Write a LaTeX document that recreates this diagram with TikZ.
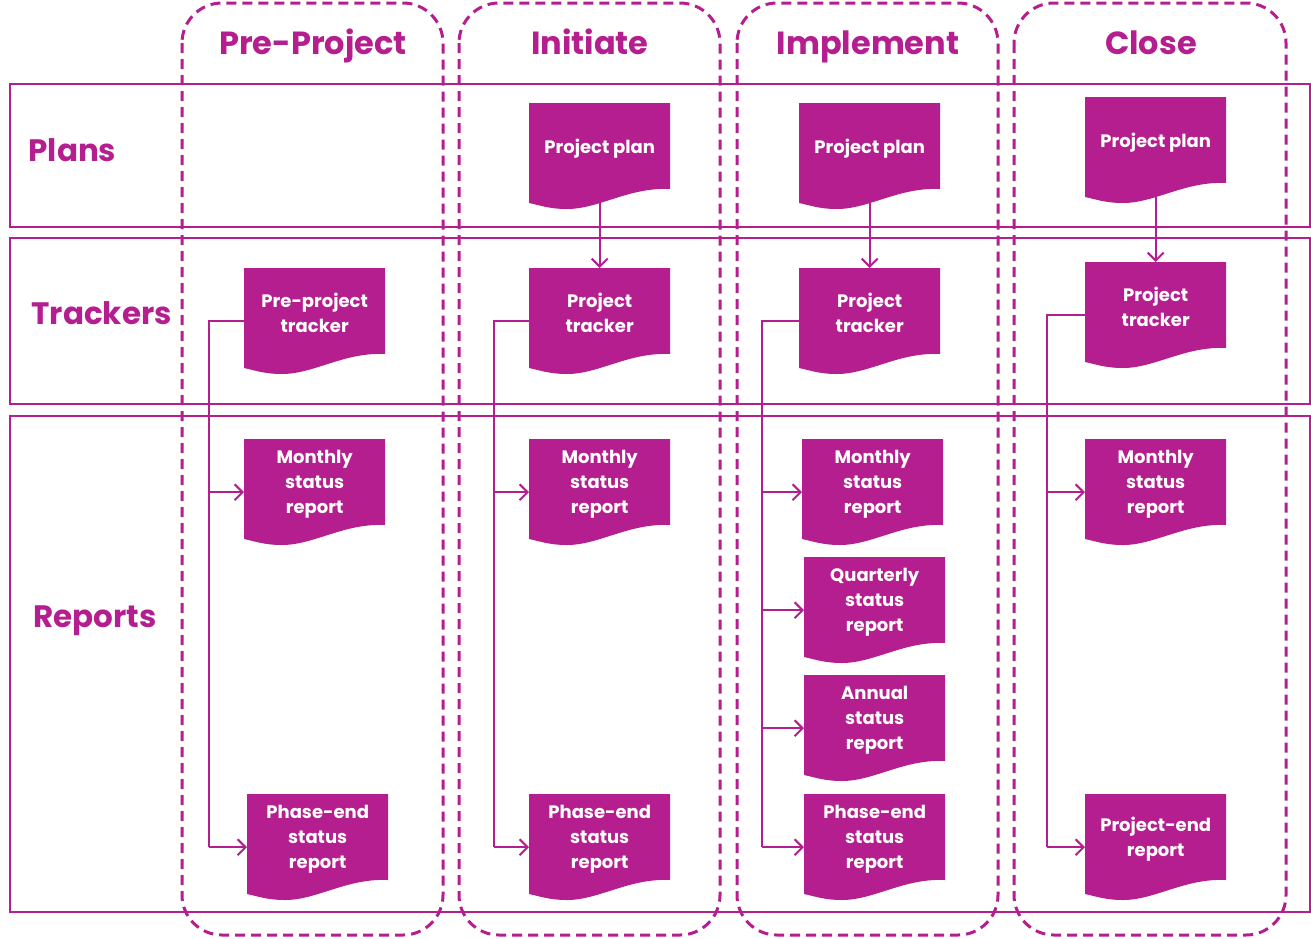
\documentclass[tikz,border=0pt]{standalone}
\usepackage{fontspec}
\setmainfont{Poppins}
\usetikzlibrary{arrows.meta,calc}
\definecolor{mag}{RGB}{180,30,142}
\tikzset{
  docbox/.style={anchor=north west,minimum width=141pt,minimum height=90pt,inner sep=0pt,
    text=white,font=\fontsize{18}{25}\selectfont\bfseries,align=center},
  lane/.style={draw=mag,line width=2pt},
  phase/.style={draw=mag,line width=3pt,dash pattern=on 10pt off 6pt,rounded corners=40pt},
  conn/.style={draw=mag,line width=2pt},
  arr/.style={conn,-{Straight Barb[length=8pt,width=16pt,line width=2pt]}},
  title/.style={text=mag,font=\fontsize{32}{36}\selectfont\bfseries,anchor=base},
  rowlab/.style={text=mag,font=\fontsize{31}{36}\selectfont\bfseries,anchor=west}
}
\newcommand\docnode[4]{%
  \fill[mag] (#2,#3) -- (#2+141,#3) -- (#2+141,#3+86)
    .. controls (#2+100,#3+84) and (#2+70,#3+106) .. (#2+38,#3+106)
    .. controls (#2+20,#3+106) and (#2+10,#3+102) .. (#2,#3+100) -- cycle;
  \node[docbox] (#1) at (#2,#3) {#4};}
\begin{document}
\begin{tikzpicture}[x=1pt,y=-1pt]
\useasboundingbox (0,0) rectangle (1311,938);
% lanes
\draw[lane] (10,84) rectangle (1310,227);
\draw[lane] (10,238) rectangle (1310,404);
\draw[lane] (10,416) rectangle (1310,912);
\node[rowlab] (lplans) at (25,150) {Plans};
\node[rowlab] (ltrack) at (28,313) {Trackers};
\node[rowlab] (lrep) at (30,621) {Reports};
% phases
\draw[phase] (182,3) rectangle (443,935);
\draw[phase] (459,3) rectangle (720,935);
\draw[phase] (737,3) rectangle (998,935);
\draw[phase] (1014,3) rectangle (1286,935);
\node[title] (tpre) at (313,54) {Pre-Project};
\node[title] (tini) at (590,54) {Initiate};
\node[title] (timp) at (868,54) {Implement};
\node[title] (tclo) at (1151,54) {Close};
% Pre-Project
\docnode{t1}{244}{268}{Pre-project\\tracker}
\docnode{m1}{244}{439}{Monthly\\status\\report}
\docnode{e1}{247}{794}{Phase-end\\status\\report}
% Initiate
\docnode{p2}{529}{103}{Project plan}
\docnode{t2}{529}{268}{Project\\tracker}
\docnode{m2}{529}{439}{Monthly\\status\\report}
\docnode{e2}{529}{794}{Phase-end\\status\\report}
% Implement
\docnode{p3}{799}{103}{Project plan}
\docnode{t3}{799}{268}{Project\\tracker}
\docnode{m3}{802}{439}{Monthly\\status\\report}
\docnode{q3}{804}{557}{Quarterly\\status\\report}
\docnode{a3}{804}{675}{Annual\\status\\report}
\docnode{e3}{804}{794}{Phase-end\\status\\report}
% Close
\docnode{p4}{1085}{97}{Project plan}
\docnode{t4}{1085}{262}{Project\\tracker}
\docnode{m4}{1085}{439}{Monthly\\status\\report}
\docnode{e4}{1085}{794}{Project-end\\report}
% trunk coordinates
\coordinate (j1) at (209,0);
\coordinate (j2) at (494,0);
\coordinate (j3) at (762,0);
\coordinate (j4) at (1047,0);
% plan -> tracker
\draw[arr] (p2.south) -- (t2.north);
\draw[arr] (p3.south) -- (t3.north);
\draw[arr] (p4.south) -- (t4.north);
% Pre-project trunk
\draw[conn] ([yshift=-8pt]t1.west) -- ([yshift=-8pt]t1.west -| j1) -- ([yshift=-8pt]e1.west -| j1);
\draw[arr] ([yshift=-8pt]m1.west -| j1) -- ([yshift=-8pt]m1.west);
\draw[arr] ([yshift=-8pt]e1.west -| j1) -- ([yshift=-8pt]e1.west);
% Initiate trunk
\draw[conn] ([yshift=-8pt]t2.west) -- ([yshift=-8pt]t2.west -| j2) -- ([yshift=-8pt]e2.west -| j2);
\draw[arr] ([yshift=-8pt]m2.west -| j2) -- ([yshift=-8pt]m2.west);
\draw[arr] ([yshift=-8pt]e2.west -| j2) -- ([yshift=-8pt]e2.west);
% Implement trunk
\draw[conn] ([yshift=-8pt]t3.west) -- ([yshift=-8pt]t3.west -| j3) -- ([yshift=-8pt]e3.west -| j3);
\draw[arr] ([yshift=-8pt]m3.west -| j3) -- ([yshift=-8pt]m3.west);
\draw[arr] ([yshift=-8pt]q3.west -| j3) -- ([yshift=-8pt]q3.west);
\draw[arr] ([yshift=-8pt]a3.west -| j3) -- ([yshift=-8pt]a3.west);
\draw[arr] ([yshift=-8pt]e3.west -| j3) -- ([yshift=-8pt]e3.west);
% Close trunk
\draw[conn] ([yshift=-8pt]t4.west) -- ([yshift=-8pt]t4.west -| j4) -- ([yshift=-8pt]e4.west -| j4);
\draw[arr] ([yshift=-8pt]m4.west -| j4) -- ([yshift=-8pt]m4.west);
\draw[arr] ([yshift=-8pt]e4.west -| j4) -- ([yshift=-8pt]e4.west);
\end{tikzpicture}
\end{document}
